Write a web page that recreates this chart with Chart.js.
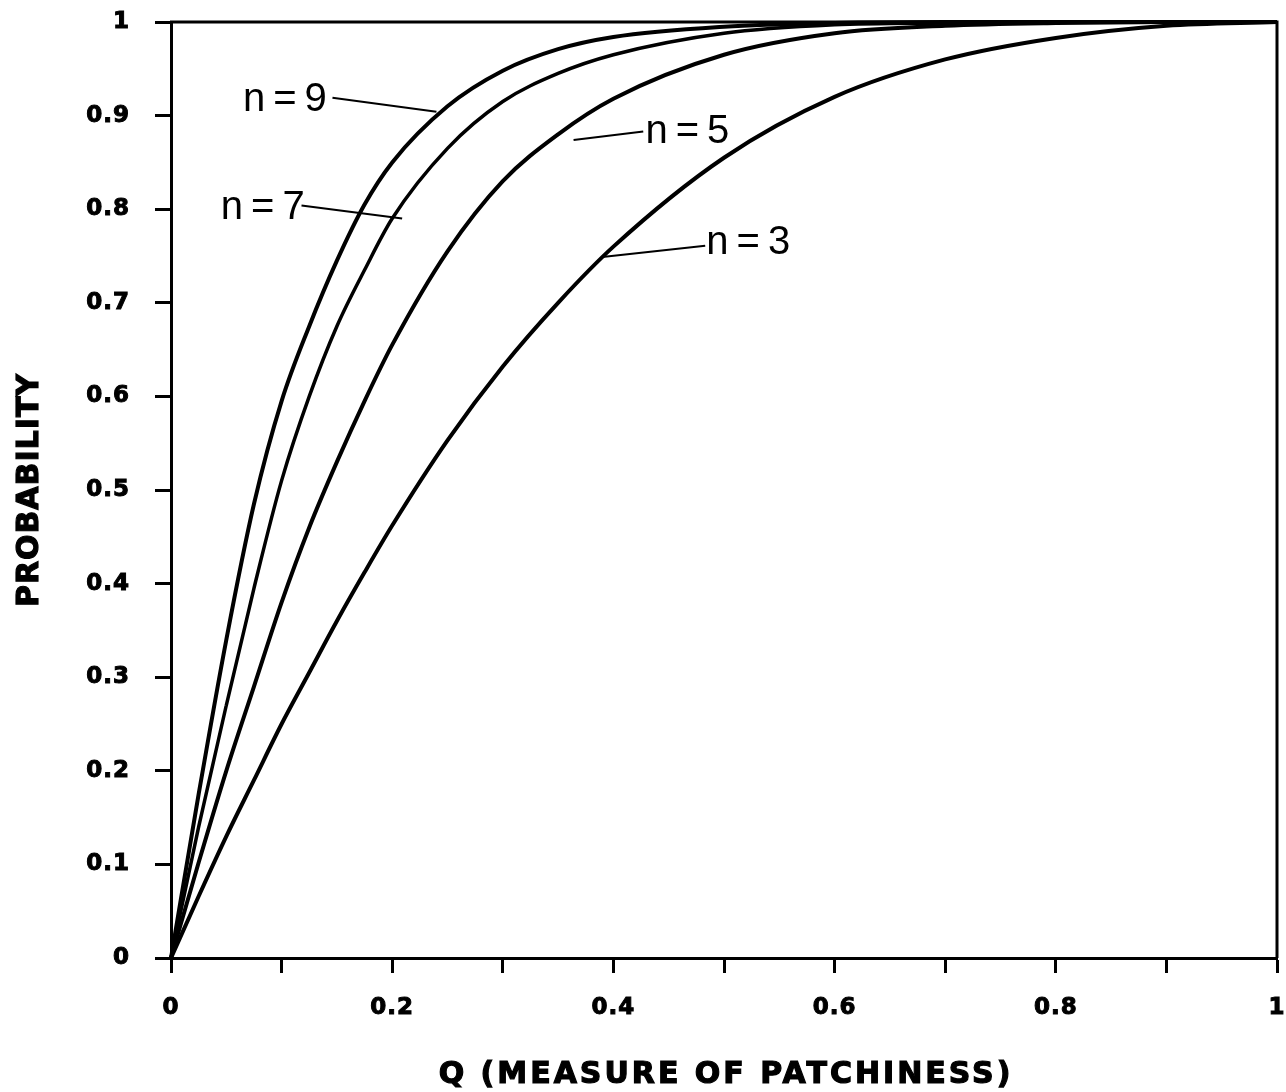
<!DOCTYPE html>
<html>
<head>
<meta charset="utf-8">
<script src="https://cdn.jsdelivr.net/npm/chart.js@4.4.1/dist/chart.umd.min.js"></script>
<style>
  html, body { margin: 0; padding: 0; background: #fff; }
  #wrap { width: 1286px; height: 1092px; }
</style>
</head>
<body>
<div id="wrap"><canvas id="chart" width="1286" height="1092"></canvas></div>
<script>
// Q values (x) shared by all curves
const qValues = [0, 0.025, 0.05, 0.075, 0.1, 0.125, 0.15, 0.175, 0.2, 0.25, 0.3, 0.35, 0.4, 0.5, 0.6, 0.7, 0.8, 0.9, 1];

// probability
const probN9 = [0, 0.175, 0.34, 0.485, 0.595, 0.675, 0.745, 0.805, 0.85, 0.91, 0.948, 0.971, 0.984, 0.995, 0.999, 1, 1, 1, 1];
const probN7 = [0, 0.14, 0.27, 0.395, 0.51, 0.60, 0.675, 0.735, 0.79, 0.865, 0.915, 0.945, 0.965, 0.988, 0.997, 0.999, 1, 1, 1];
const probN5 = [0, 0.102, 0.20, 0.29, 0.38, 0.46, 0.53, 0.595, 0.655, 0.755, 0.83, 0.88, 0.918, 0.965, 0.988, 0.996, 0.999, 1, 1];
const probN3 = [0, 0.066, 0.13, 0.19, 0.25, 0.305, 0.36, 0.412, 0.462, 0.553, 0.632, 0.70, 0.76, 0.855, 0.92, 0.96, 0.983, 0.996, 1];

const xTickLabels = ['0', '', '0.2', '', '0.4', '', '0.6', '', '0.8', '', '1'];
const yTickLabels = ['0', '0.1', '0.2', '0.3', '0.4', '0.5', '0.6', '0.7', '0.8', '0.9', '1'];

const xTitle = 'Q (MEASURE OF PATCHINESS)';
const yTitle = 'PROBABILITY';

// curve labels with leader lines (data coords)
const curveLabels = [
  { text: 'n=9', tx: 0.065, ty: 0.917, from: [0.146, 0.919], to: [0.240, 0.904] },
  { text: 'n=7', tx: 0.045, ty: 0.801, from: [0.118, 0.804], to: [0.209, 0.790] },
  { text: 'n=5', tx: 0.429, ty: 0.882, from: [0.427, 0.883], to: [0.364, 0.874] },
  { text: 'n=3', tx: 0.484, ty: 0.764, from: [0.483, 0.761], to: [0.390, 0.749] }
];

function pts(ys) { return qValues.map((q, i) => ({ x: q, y: ys[i] })); }

function curve(label, ys, width) {
  return {
    label: label,
    data: pts(ys),
    showLine: true,
    borderColor: '#000',
    borderWidth: width,
    pointRadius: 0,
    cubicInterpolationMode: 'monotone',
    clip: false
  };
}

function noPad(s) { s.paddingLeft = s.paddingRight = s.paddingTop = s.paddingBottom = 0; }

const framePlugin = {
  id: 'frame',
  beforeDraw(chart) {
    if ('letterSpacing' in chart.ctx) chart.ctx.letterSpacing = '1px';
  },
  afterDraw(chart) {
    const ctx = chart.ctx;
    const a = chart.chartArea;
    const xs = chart.scales.x, ys = chart.scales.y;
    ctx.save();
    ctx.strokeStyle = '#000';
    ctx.fillStyle = '#000';
    ctx.lineWidth = 3;
    ctx.beginPath();
    ctx.moveTo(a.left - 1, a.top);
    ctx.lineTo(a.right, a.top);
    ctx.lineTo(a.right, a.bottom);
    ctx.stroke();

    // curve labels
    ctx.lineWidth = 2;
    ctx.font = '40px "Liberation Sans", Arial, sans-serif';
    ctx.textBaseline = 'middle';
    ctx.textAlign = 'left';
    if ('letterSpacing' in ctx) ctx.letterSpacing = '8px';
    curveLabels.forEach(l => {
      ctx.beginPath();
      ctx.moveTo(xs.getPixelForValue(l.from[0]), ys.getPixelForValue(l.from[1]));
      ctx.lineTo(xs.getPixelForValue(l.to[0]), ys.getPixelForValue(l.to[1]));
      ctx.stroke();
      ctx.fillText(l.text, xs.getPixelForValue(l.tx), ys.getPixelForValue(l.ty));
    });

    // axis titles
    ctx.font = 'bold 30px "DejaVu Sans", sans-serif';
    ctx.textAlign = 'center';
    ctx.lineWidth = 1.2;
    if ('letterSpacing' in ctx) ctx.letterSpacing = '3px';
    const tx = (a.left + a.right) / 2 + 2, ty = chart.height - 17;
    ctx.fillText(xTitle, tx, ty);
    ctx.strokeText(xTitle, tx, ty);
    ctx.translate(30, (a.top + a.bottom) / 2);
    ctx.rotate(-Math.PI / 2);
    if ('letterSpacing' in ctx) ctx.letterSpacing = '1px';
    ctx.fillText(yTitle, 0, 0);
    ctx.strokeText(yTitle, 0, 0);
    ctx.restore();
  }
};

const tickFont = { family: '"DejaVu Sans", sans-serif', size: 23, weight: 'bold' };

new Chart(document.getElementById('chart'), {
  type: 'scatter',
  data: {
    datasets: [
      curve('n=9', probN9, 4),
      curve('n=7', probN7, 3.5),
      curve('n=5', probN5, 4),
      curve('n=3', probN3, 4)
    ]
  },
  options: {
    responsive: false,
    animation: false,
    devicePixelRatio: 1,
    layout: { padding: { left: 0, top: 22, right: 9, bottom: 0 } },
    plugins: { legend: { display: false }, tooltip: { enabled: false } },
    scales: {
      x: {
        type: 'linear',
        min: 0, max: 1,
        afterFit: s => { s.height = 134; noPad(s); },
        afterBuildTicks: s => { s.ticks = xTickLabels.map((t, i) => ({ value: i / 10 })); },
        border: { color: '#000', width: 3 },
        grid: { drawOnChartArea: false, drawTicks: true, tickLength: 15, tickWidth: 3, tickColor: '#000' },
        ticks: {
          color: '#000', font: tickFont, padding: 21, maxRotation: 0, autoSkip: false,
          textStrokeColor: '#000', textStrokeWidth: 1,
          callback: (v, i) => xTickLabels[i]
        }
      },
      y: {
        type: 'linear',
        min: 0, max: 1,
        afterFit: s => { s.width = 171; noPad(s); },
        afterBuildTicks: s => { s.ticks = yTickLabels.map((t, i) => ({ value: i / 10 })); },
        border: { color: '#000', width: 3 },
        grid: { drawOnChartArea: false, drawTicks: true, tickLength: 16, tickWidth: 3, tickColor: '#000' },
        ticks: {
          color: '#000', font: tickFont, padding: 25, autoSkip: false,
          textStrokeColor: '#000', textStrokeWidth: 1,
          callback: (v, i) => yTickLabels[i]
        }
      }
    }
  },
  plugins: [framePlugin]
});
</script>
</body>
</html>
